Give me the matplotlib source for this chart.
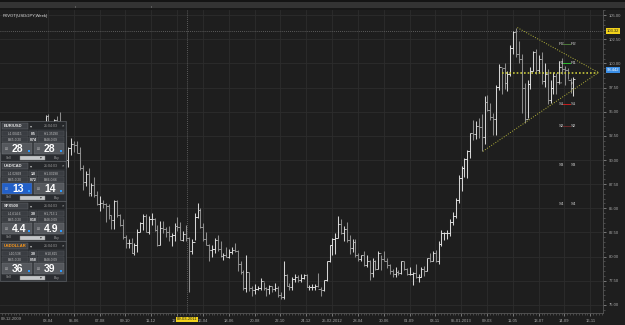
import matplotlib
matplotlib.use('Agg')
import matplotlib.pyplot as plt
import matplotlib.dates as mdates
import matplotlib.markers as mmarkers
import matplotlib.transforms as mtrans
from matplotlib.patches import Rectangle
import pandas as pd

plt.rcParams['font.family'] = ['Liberation Sans', 'DejaVu Sans']

# ---------------- data (weekly USD/JPY bars) ----------------
high_2009 = [90.8, 90.1, 91.6, 93.0]
low_2009 = [88.2, 88.6, 89.6, 90.8]
close_2009 = [89.1, 89.9, 91.4, 93.0]

high_2010 = [93.8, 92.8, 91.6, 90.7, 91.3, 90.2, 91.8, 91.4, 90.6, 90.8, 91.0, 92.7, 94.7,
             94.8, 93.8, 94.2, 94.6, 95.0, 93.4, 93.0, 91.3, 92.3, 92.0, 92.0, 91.3, 89.5,
             88.9, 89.2, 87.6, 88.2, 86.8, 86.3, 85.9, 85.5, 85.4, 84.3, 85.9, 85.9, 84.4,
             83.9, 82.2, 81.8, 81.9, 81.4, 82.9, 83.6, 84.4, 84.4, 84.2, 84.5, 84.0, 83.3]
low_2010 = [91.5, 90.5, 89.8, 88.9, 88.6, 88.9, 89.6, 88.6, 88.1, 89.9, 88.6, 90.2, 92.5,
            92.8, 91.9, 92.5, 93.1, 88.0, 91.3, 89.2, 89.3, 90.5, 90.8, 90.7, 89.0, 86.9,
            87.3, 86.3, 86.3, 86.2, 85.3, 84.7, 85.0, 83.6, 83.9, 82.9, 82.9, 84.1, 83.2,
            81.8, 80.9, 80.9, 80.4, 80.2, 80.5, 82.6, 82.8, 82.5, 82.3, 83.3, 82.7, 81.1]
close_2010 = [92.6, 90.8, 90.0, 90.3, 89.3, 89.9, 91.5, 89.2, 90.4, 90.5, 90.6, 92.5, 94.6,
              93.2, 92.1, 94.1, 94.0, 91.5, 92.5, 90.0, 91.2, 91.7, 91.6, 90.7, 89.2, 87.7,
              88.6, 86.6, 87.4, 86.4, 85.4, 85.6, 85.4, 85.2, 84.3, 83.8, 85.8, 84.3, 83.3,
              82.0, 81.4, 81.4, 80.4, 81.2, 82.5, 83.5, 84.2, 82.6, 83.9, 83.9, 82.8, 81.2]

high_2011 = [83.7, 83.7, 83.1, 83.2, 82.4, 83.5, 84.1, 83.6, 82.7, 83.3, 82.0, 81.8, 84.5,
             85.5, 85.0, 83.5, 82.5, 81.3, 81.2, 81.9, 82.2, 81.6, 80.4, 81.0, 80.8, 81.0,
             81.4, 80.7, 79.6, 78.6, 80.2, 78.4, 77.0, 77.2, 77.0, 77.8, 77.4, 76.9, 77.1,
             77.0, 77.3, 77.0, 76.3, 79.5, 78.2, 77.3, 77.9, 78.2, 78.1, 78.2, 78.2, 78.2]
low_2011 = [81.2, 82.4, 82.0, 81.6, 81.1, 81.6, 82.7, 81.7, 81.6, 81.6, 76.3, 80.3, 81.7,
            84.0, 83.0, 81.6, 81.2, 79.6, 80.0, 80.4, 80.6, 80.0, 79.7, 80.0, 79.9, 80.3,
            80.5, 78.5, 78.2, 76.6, 76.3, 76.4, 75.9, 76.1, 76.5, 76.6, 76.5, 75.9, 76.1,
            76.3, 76.4, 75.8, 75.6, 75.6, 77.0, 76.6, 76.6, 77.4, 77.4, 77.4, 77.7, 76.9]
close_2011 = [83.0, 82.9, 82.6, 82.1, 82.2, 83.2, 83.1, 81.7, 82.3, 81.9, 80.6, 81.5, 84.1,
              84.8, 83.1, 81.8, 81.2, 80.7, 80.8, 81.7, 80.8, 80.1, 80.2, 80.0, 80.5, 80.7,
              80.6, 79.2, 78.4, 76.8, 78.4, 76.8, 76.6, 76.7, 76.8, 77.5, 76.8, 76.7, 77.0,
              76.7, 76.8, 76.0, 75.8, 78.1, 77.0, 76.9, 77.7, 77.9, 77.6, 77.8, 78.1, 76.9]

high_2012 = [77.1, 77.2, 77.2, 78.3, 76.9, 77.6, 79.6, 81.2, 81.9, 82.4, 84.2, 83.9, 83.2,
             83.6, 82.2, 81.8, 81.8, 80.4, 80.2, 80.6, 80.2, 79.7, 79.9, 79.7, 80.6, 80.2,
             80.6, 79.9, 79.2, 78.7, 78.9, 78.6, 79.6, 79.5, 78.8, 78.9, 78.4, 79.2, 78.2,
             78.9, 79.0, 79.9, 80.4, 80.6, 80.7, 81.6, 82.8, 82.6, 82.8, 83.9, 84.6, 86.1, 88.4]
low_2012 = [76.6, 76.6, 76.5, 76.9, 75.9, 76.4, 77.5, 79.4, 80.2, 80.3, 81.9, 82.3, 81.6,
            81.5, 80.3, 80.5, 80.0, 79.6, 79.5, 79.0, 78.9, 77.6, 77.9, 78.6, 78.7, 78.6,
            79.5, 78.8, 78.2, 77.9, 77.9, 78.1, 78.2, 78.6, 78.1, 78.1, 77.1, 77.8, 77.4,
            77.9, 78.0, 78.5, 79.4, 79.5, 79.4, 79.2, 81.1, 81.7, 81.8, 82.1, 83.3, 84.0, 85.6]
close_2012 = [76.9, 76.9, 77.0, 76.7, 76.6, 77.6, 79.5, 81.2, 81.8, 81.9, 83.4, 82.4, 82.9,
              81.7, 80.9, 81.5, 80.2, 79.8, 80.2, 79.1, 79.6, 78.3, 79.6, 78.7, 80.4, 79.8,
              79.6, 79.1, 78.5, 78.2, 78.4, 78.3, 79.6, 78.7, 78.2, 78.2, 78.3, 77.9, 77.9,
              78.7, 78.5, 79.9, 79.6, 80.4, 79.5, 81.3, 82.4, 82.4, 82.4, 83.6, 84.2, 85.9, 88.1]

high_2013 = [89.4, 90.2, 91.0, 92.8, 94.1, 94.0, 94.3, 94.8, 96.6, 96.7, 95.9, 94.9, 97.8,
             99.9, 99.5, 100.0, 99.2, 101.9, 103.3, 103.7, 102.3, 101.0, 98.0, 98.3, 99.6,
             101.3, 101.5, 100.9, 101.2, 100.0, 99.4, 98.3, 99.1, 99.0, 100.2, 100.6, 99.7,
             99.5, 98.5, 98.6]
low_2013 = [86.8, 88.2, 88.1, 90.2, 92.1, 92.2, 92.3, 90.9, 91.7, 95.1, 94.1, 92.6, 92.6,
            97.2, 96.8, 97.3, 97.1, 98.7, 101.0, 100.7, 100.0, 94.9, 93.8, 94.3, 97.3,
            99.2, 98.9, 99.0, 97.9, 97.6, 95.8, 95.9, 96.8, 96.8, 98.0, 98.9, 97.8,
            98.4, 96.9, 96.6]
close_2013 = [89.2, 90.1, 90.9, 92.8, 92.7, 93.5, 93.4, 92.4, 96.0, 95.2, 94.5, 94.2, 97.6,
              99.6, 99.5, 98.0, 98.9, 101.6, 103.2, 101.0, 100.5, 97.5, 94.2, 97.9, 99.2,
              101.2, 99.3, 100.4, 98.2, 98.9, 96.2, 97.5, 98.7, 98.1, 99.6, 99.4, 99.3,
              98.3, 97.5, 98.4]
first_open = 90.5

# pivot levels
pivot_names = ['R2', 'R1', 'P', 'S1', 'S2', 'S3', 'S4']
pivot_values = [102.0, 100.0, 97.9, 95.8, 93.5, 89.5, 85.4]
pivot_colors = ['#4d7a3a', '#2fbf2f', None, '#c82020', '#6a2a2a', None, None]

# triangle trend lines
upper_line_dates = ['2013-05-22', '2013-12-06']
upper_line_values = [103.7, 99.05]
lower_line_dates = ['2013-02-27', '2013-12-06']
lower_line_values = [90.9, 99.05]
flat_line_dates = ['2013-04-14', '2013-12-06']
flat_line_values = [99.05, 99.05]

cross_date = '2011-03-09'
cross_value = 103.32
last_price_text = '98.442'

xtick_dates = ['2010-04-03', '2010-06-05', '2010-08-07', '2010-10-09', '2010-12-11',
               '2011-02-12', '2011-04-16', '2011-06-18', '2011-08-20', '2011-10-22',
               '2011-12-24', '2012-02-25', '2012-04-28', '2012-06-30', '2012-09-01',
               '2012-11-03', '2013-01-05', '2013-03-09', '2013-05-11', '2013-07-13',
               '2013-09-14', '2013-11-16']
xtick_labels = ['03-04', '05-06', '07-08', '09-10', '11-12', '12-02', '16-04', '18-06',
                '20-08', '22-10', '24-12', '25-02-2012', '28-04', '30-06', '01-09', '03-11',
                '05-01-2013', '09-03', '11-05', '13-07', '14-09', '16-11']
ytick_values = [75.0, 77.5, 80.0, 82.5, 85.0, 87.5, 90.0, 92.5, 95.0, 97.5, 100.0, 102.5, 105.0]

# ---------------- build series ----------------
high = high_2009 + high_2010 + high_2011 + high_2012 + high_2013
low = low_2009 + low_2010 + low_2011 + low_2012 + low_2013
close = close_2009 + close_2010 + close_2011 + close_2012 + close_2013
opn = [first_open] + close[:-1]
dates = pd.date_range('2009-12-06', periods=len(close), freq='W-SUN')

W, H = 625, 325
BG = '#1e1e1e'
fig = plt.figure(figsize=(6.25, 3.25), dpi=100, facecolor=BG)


def fx(px):
    return px / W


def fy(py):
    return 1 - py / H


def rect(x, y, w, h, fc, ec='none', lw=0.4, z=5):
    fig.add_artist(Rectangle((fx(x), fy(y + h)), w / W, h / H, transform=fig.transFigure,
                             facecolor=fc, edgecolor=ec, linewidth=lw, zorder=z))


def ftext(x, y, s, size=2.8, color='#c8c8c8', ha='left', weight='normal', z=6, **kw):
    fig.text(fx(x), fy(y), s, fontsize=size, color=color, ha=ha, va='center',
             weight=weight, zorder=z, **kw)


ax = fig.add_axes([0, fy(313), fx(603), fy(10) - fy(313)])
ax.set_facecolor(BG)
ax.set_xlim(pd.Timestamp('2009-12-07'), pd.Timestamp('2013-12-17'))
ax.set_ylim(74.17, 105.52)

# grid / ticks
ax.set_yticks(ytick_values)
ax.set_yticklabels([f'{v:.2f}' for v in ytick_values])
ax.set_xticks(pd.to_datetime(xtick_dates))
ax.set_xticklabels(xtick_labels)
ax.yaxis.tick_right()
ax.yaxis.set_minor_locator(plt.MultipleLocator(0.5))
ax.xaxis.set_minor_locator(mdates.WeekdayLocator(byweekday=mdates.SA))
ax.grid(True, which='major', color='#2d2d2d', lw=0.6)
ax.set_axisbelow(True)
ax.tick_params(axis='both', which='major', labelsize=3.0, colors='#9c9c9c', length=2.5,
               width=0.5, pad=1.8)
ax.tick_params(axis='both', which='minor', colors='#6a6a6a', length=1.3, width=0.4)
ax.tick_params(axis='y', labelcolor='#a8a8a8')
ax.tick_params(axis='x', labelcolor='#a8a8a8')
for s in ['top', 'left']:
    ax.spines[s].set_visible(False)
for s in ['right', 'bottom']:
    ax.spines[s].set_color('#555555')
    ax.spines[s].set_linewidth(0.6)

# bars
up = [c >= o for c, o in zip(close, opn)]
cols = ['#d4d4d4' if u else '#8c8c8c' for u in up]
ax.vlines(dates, low, high, colors=cols, lw=0.75, zorder=3)
for flag, col in [(True, '#e6e6e6'), (False, '#9a9a9a')]:
    d = [dt for dt, u in zip(dates, up) if u == flag]
    o = [v for v, u in zip(opn, up) if u == flag]
    c = [v for v, u in zip(close, up) if u == flag]
    ax.plot(d, o, ls='none', marker=mmarkers.TICKLEFT, ms=1.4, mew=0.6, color=col, zorder=3)
    ax.plot(d, c, ls='none', marker=mmarkers.TICKRIGHT, ms=1.4, mew=0.6, color=col, zorder=3)

# crosshair
ax.axvline(pd.Timestamp(cross_date), color='#707070', lw=0.6, ls=(0, (1, 1.5)), zorder=2)
ax.axhline(cross_value, color='#707070', lw=0.6, ls=(0, (1, 1.5)), zorder=2)

# triangle
ax.plot(pd.to_datetime(upper_line_dates), upper_line_values, color='#b5b53a', lw=0.7,
        ls=(0, (1, 1.6)), zorder=4)
ax.plot(pd.to_datetime(lower_line_dates), lower_line_values, color='#b5b53a', lw=0.7,
        ls=(0, (1, 1.6)), zorder=4)
ax.plot(pd.to_datetime(flat_line_dates), flat_line_values, color='#c8c83c', lw=1.2,
        ls=(0, (1, 1.2)), zorder=4)

# pivots
bt = mtrans.blended_transform_factory(ax.transAxes, ax.transData)
for n, v, c in zip(pivot_names, pivot_values, pivot_colors):
    ax.text(0.927, v, n, transform=bt, fontsize=3.2, color='#d0d0d0', ha='left',
            va='center', zorder=6)
    ax.text(0.946, v, n, transform=bt, fontsize=3.2, color='#d0d0d0', ha='left',
            va='center', zorder=6)
    if c:
        ax.plot([0.934, 0.946], [v, v], transform=bt, color=c, lw=0.7, zorder=6)

# axis price labels
ax.text(1.006, cross_value, f'{cross_value:.2f}', transform=bt, fontsize=3.0, color='#202020',
        ha='left', va='center', zorder=10, clip_on=False,
        bbox=dict(boxstyle='square,pad=0.25', fc='#f2d21a', ec='none'))
ax.text(1.006, 99.35, last_price_text, transform=bt, fontsize=3.0, color='#ffffff',
        ha='left', va='center', zorder=10, clip_on=False,
        bbox=dict(boxstyle='square,pad=0.25', fc='#3a8ee6', ec='none'))
bx = mtrans.blended_transform_factory(ax.transData, ax.transAxes)
ax.text(pd.Timestamp(cross_date), -0.021, '09-03-2011', transform=bx, fontsize=3.0,
        color='#202020', ha='center', va='center', zorder=10, clip_on=False,
        bbox=dict(boxstyle='square,pad=0.15', fc='#f2d21a', ec='none'))
ftext(1, 319.5, '09-12-2009', size=3.0, color='#a8a8a8')

# title
ax.text(0.004, 0.987, 'FXVOT(USD/JPY,Week)', transform=ax.transAxes, fontsize=3.0,
        color='#e0e0e0', ha='left', va='top', zorder=6)

# header strip
rect(0, 0, 625, 2, '#141414', z=1)
rect(0, 2, 625, 6, '#333333', z=1)
rect(0, 8, 625, 2, '#181818', z=1)
for xn in [75, 151]:
    rect(xn, 6, 1, 2, '#5a5a5a', z=2)


# ---------------- left trading panels ----------------
def panel(top, name, name_color, row1, row2, big_l, big_r, left_blue=False):
    rect(0, top, 66, 40, '#2c2f33', ec='#5a5d62', lw=0.5)
    rect(1, top + 1, 64, 7, '#25272a')
    rect(2, top + 1.5, 26, 6, '#3e4146', ec='#6a6d72', lw=0.3)
    ftext(3.5, top + 4.6, name, size=3.0, color=name_color, weight='bold')
    ftext(30, top + 4.6, '\u25be', size=3.0, color='#c0c0c0')
    ftext(44, top + 4.6, '21:04:03', size=2.6, color='#9a9a9a')
    ftext(62, top + 4.6, '\u00d7', size=3.0, color='#c0c0c0')
    for i, row in enumerate([row1, row2]):
        yy = top + 10 + i * 6
        rect(2, yy, 26, 5, '#3a3d42', ec='#55585c', lw=0.3)
        rect(29, yy, 8, 5, '#3a3d42', ec='#55585c', lw=0.3)
        rect(38, yy, 26, 5, '#3a3d42', ec='#55585c', lw=0.3)
        ftext(15, yy + 2.6, row[0], size=2.3, color='#c0c0c0', ha='center')
        ftext(33, yy + 2.6, row[1], size=2.5, color='#ffffff', ha='center', weight='bold')
        ftext(51, yy + 2.6, row[2], size=2.3, color='#c0c0c0', ha='center')
    by = top + 22
    rect(2, by, 30, 11, '#2360c8' if left_blue else '#55585d', ec='#7a7d82', lw=0.3)
    rect(34, by, 30, 11, '#55585d', ec='#7a7d82', lw=0.3)
    ftext(5, by + 6, 'LU', size=2.3, color='#d0d0d0')
    ftext(12, by + 5.8, big_l, size=7.5, color='#ffffff', weight='bold')
    ftext(37, by + 6, 'LU', size=2.3, color='#d0d0d0')
    ftext(44, by + 5.8, big_r, size=7.5, color='#ffffff', weight='bold')
    rect(28, by + 7, 1.5, 1.5, '#2f9bff')
    rect(60, by + 7, 1.5, 1.5, '#2f9bff')
    rect(2, by + 12, 62, 5, '#2a2c30')
    ftext(9, by + 14.5, 'Sell', size=2.4, color='#a0a0a0', ha='center')
    rect(20, by + 12.5, 25, 4.2, '#c4c6c8', ec='#888888', lw=0.3)
    ftext(41, by + 14.5, '\u25be', size=2.6, color='#333333', ha='center')
    ftext(57, by + 14.5, 'Buy', size=2.4, color='#a0a0a0', ha='center')


panel(121, 'EUR/USD', '#e6e6e6', ['L:1.00415', '0.5', 'H:1.35290'],
      ['B:65-0.20', '0.74', 'B:48-0.09'], '28', '28')
panel(161, 'USD/CAD', '#e6e6e6', ['L:1.02893', '1.8', 'H:1.03198'],
      ['B:65-0.20', '0.72', 'B:66-0.66'], '13', '14', left_blue=True)
panel(201, 'SPX500', '#e6e6e6', ['L:1,614.6', '3.0', 'H:1,713.1'],
      ['B:65-0.20', '0.18', 'B:48-0.09'], '4.4', '4.9')
panel(241, 'USDOLLAR', '#ff9a1a', ['L:10,538', '3.0', 'H:10,815'],
      ['B:65-0.20', '0.58', 'B:48-0.09'], '36', '39')

fig.savefig('out.png', dpi=100, facecolor=BG)
